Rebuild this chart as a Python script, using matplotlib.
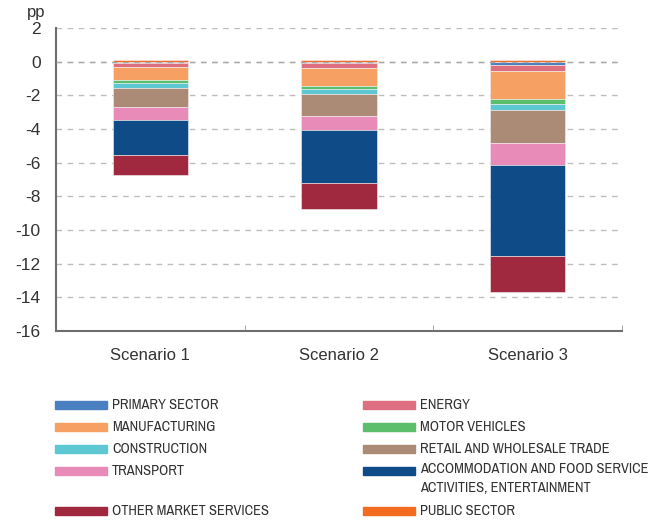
import matplotlib
matplotlib.use('Agg')
import matplotlib.pyplot as plt
from matplotlib.patches import Rectangle
from matplotlib import font_manager
import numpy as np

scenarios = ['Scenario 1', 'Scenario 2', 'Scenario 3']

sectors = ['PRIMARY SECTOR', 'ENERGY', 'MANUFACTURING', 'MOTOR VEHICLES',
           'CONSTRUCTION', 'RETAIL AND WHOLESALE TRADE', 'TRANSPORT',
           'ACCOMMODATION AND FOOD SERVICE\nACTIVITIES, ENTERTAINMENT',
           'OTHER MARKET SERVICES', 'PUBLIC SECTOR']

colors = ['#4a7fc1', '#de6f80', '#f7a064', '#5cbd6b', '#5ec8d2',
          '#ab8a76', '#e88bb9', '#0f4b87', '#a0283f', '#f26b21']

# contributions in pp, one list per sector (scenario 1, 2, 3)
primary = [-0.05, -0.10, -0.20]
energy = [-0.25, -0.25, -0.36]
manufacturing = [-0.80, -1.09, -1.68]
motor = [-0.18, -0.20, -0.30]
construction = [-0.26, -0.30, -0.34]
retail = [-1.15, -1.28, -1.98]
transport = [-0.79, -0.85, -1.28]
accommodation = [-2.05, -3.16, -5.39]
other = [-1.19, -1.52, -2.15]
public = [0.10, 0.07, 0.09]

series = [primary, energy, manufacturing, motor, construction, retail,
          transport, accommodation, other, public]

text_col = '#333333'
plt.rcParams['font.family'] = ['Liberation Sans', 'DejaVu Sans']
plt.rcParams['axes.unicode_minus'] = False

# narrow regular face for the legend, if one is installed
def is_regular(f):
    return f.style == 'normal' and f.weight in (400, 'normal', 'regular', 'book')

cond = [f for f in font_manager.fontManager.ttflist
        if ('Condensed' in f.fname or 'Narrow' in f.fname) and is_regular(f)]
cond.sort(key=lambda f: 0 if 'Narrow' in f.fname else 1)
if cond:
    legend_fp = font_manager.FontProperties(fname=cond[0].fname, size=10)
else:
    legend_fp = font_manager.FontProperties(family='Liberation Sans', size=10)

fig = plt.figure(figsize=(6.59, 5.22), dpi=100)

# size the legend font so the longest line spans ~228 px as in the reference
probe = fig.text(0, 0, 'ACCOMMODATION AND FOOD SERVICE', fontproperties=legend_fp)
w = probe.get_window_extent(renderer=fig.canvas.get_renderer()).width
probe.remove()
legend_fp.set_size(min(10 * 228 / w, 11))

ax = fig.add_axes([56/659, 1 - 331/522, (622-56)/659, (331-28)/522])

x = np.arange(len(scenarios))
pos_base = np.zeros(len(scenarios))
neg_base = np.zeros(len(scenarios))
for vals, c in zip(series, colors):
    vals = np.array(vals)
    bottom = np.where(vals >= 0, pos_base, neg_base)
    ax.bar(x, vals, 0.4, bottom=bottom, color=c, edgecolor='#f2f2f2',
           linewidth=0.4, zorder=2)
    pos_base = pos_base + np.where(vals >= 0, vals, 0)
    neg_base = neg_base + np.where(vals < 0, vals, 0)

ax.set_xlim(-0.5, 2.5)
ax.set_ylim(-16, 2)
ax.set_yticks(range(-16, 3, 2))
ax.set_xticks(x)
ax.set_xticklabels(scenarios)
ax.set_xticks([0.5, 1.5, 2.5], minor=True)
ax.tick_params(axis='x', which='major', length=0, pad=12, labelsize=12, labelcolor=text_col)
ax.tick_params(axis='x', which='minor', direction='in', length=4, color='#999999')
ax.tick_params(axis='y', length=0, pad=11, labelsize=12.5, labelcolor=text_col)

ax.yaxis.grid(True, linestyle=(0, (4, 4)), color='#bdbdbd', linewidth=1, zorder=0)
ax.set_axisbelow(True)
ax.axhline(0, linestyle=(0, (4, 4)), color='#aaaaaa', linewidth=1, zorder=3)

for s in ['top', 'right']:
    ax.spines[s].set_visible(False)
for s in ['left', 'bottom']:
    ax.spines[s].set_color('#6e6e6e')
    ax.spines[s].set_linewidth(1.5)

fig.text(27/659, 1 - 12/522, 'pp', fontsize=12, color=text_col, va='center')

# legend, two columns drawn by hand
rows = [405, 427, 449, 471, 511]
left_items = [0, 2, 4, 6, 8]
right_items = [1, 3, 5, 7, 9]
for items, hx in [(left_items, 55), (right_items, 363)]:
    for i, yy in zip(items, rows):
        fig.add_artist(Rectangle((hx/659, 1 - (yy + 4)/522), 52/659, 8/522,
                                 transform=fig.transFigure, color=colors[i]))
        if '\n' in sectors[i]:
            fig.text((hx + 57)/659, 1 - (yy - 9)/522, sectors[i], fontproperties=legend_fp,
                     color=text_col, va='top', linespacing=1.5)
        else:
            fig.text((hx + 57)/659, 1 - yy/522, sectors[i], fontproperties=legend_fp,
                     color=text_col, va='center')

plt.savefig('out.png', dpi=100)
